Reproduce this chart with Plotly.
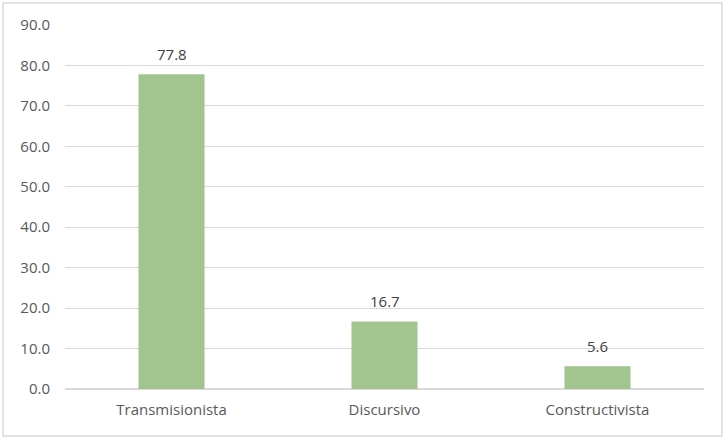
import plotly.graph_objects as go

categories = ['Transmisionista', 'Discursivo', 'Constructivista']
values = [77.8, 16.7, 5.6]
tick_values = [0, 10, 20, 30, 40, 50, 60, 70, 80, 90]

font_family = '"Open Sans", sans-serif'
text_color = '#595959'

fig = go.Figure()
fig.add_trace(go.Bar(
    x=categories,
    y=values,
    marker=dict(color='#a2c48f', line=dict(width=0)),
    hoverinfo='x+y',
))

# data labels sit a bit higher than plotly's default outside text
for cat, val in zip(categories, values):
    fig.add_annotation(
        x=cat, y=val, text='{:.1f}'.format(val),
        showarrow=False, yanchor='bottom', yshift=8,
        font=dict(size=15, color='#404040', family=font_family),
    )

fig.update_layout(
    width=726,
    height=439,
    margin=dict(l=65, r=22, t=25, b=50),
    paper_bgcolor='white',
    plot_bgcolor='white',
    bargap=0.69,
    showlegend=False,
    font=dict(family=font_family, size=15, color=text_color),
    xaxis=dict(showgrid=False, showline=False, ticks='', ticklabelstandoff=10,
               tickfont=dict(size=15, color=text_color)),
    yaxis=dict(
        range=[0, 90],
        tickvals=tick_values,
        tickformat='.1f',
        showgrid=True,
        gridcolor='#d9d9d9',
        gridwidth=1,
        zeroline=True,
        zerolinecolor='#d9d9d9',
        showline=False,
        ticks='',
        ticklabelstandoff=14,
        tickfont=dict(size=15, color=text_color),
    ),
    shapes=[dict(
        type='rect', xref='paper', yref='paper',
        x0=-0.097, x1=1.028, y0=-0.129, y1=1.0604,
        line=dict(color='#d9d9d9', width=1.5),
        layer='below',
    )],
)

fig.write_html('out.html', config={'displayModeBar': False},
               post_script="document.body.style.margin='0';")
